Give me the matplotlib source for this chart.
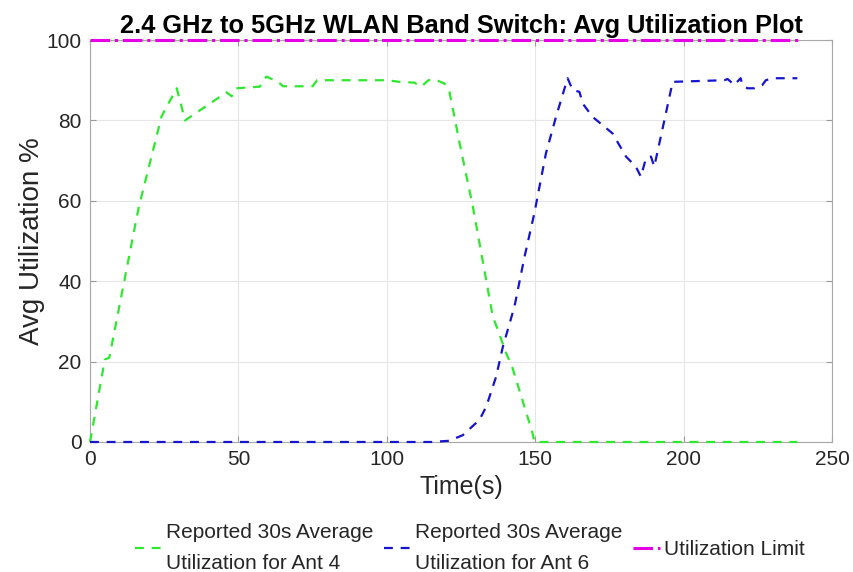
import matplotlib
matplotlib.use("Agg")
import matplotlib.pyplot as plt

plt.rcParams['font.family'] = ['Liberation Sans', 'DejaVu Sans']

# Ant 4 (2.4 GHz) reported 30s average utilization
t_ant4 = [0, 5.0, 6.5, 16.3, 24.1, 29.2, 30.3, 32, 46, 47.7, 49.3, 57.2, 59.4, 63.4,
          65, 75, 76.5, 100, 104.3, 109.3, 111.6, 114, 116.1, 119.4, 121.1, 125, 129,
          135.7, 137.4, 140.2, 142.4, 149.1, 149.7, 238.3]
u_ant4 = [0, 20.5, 21, 58, 81, 88, 85, 80, 87, 86, 88, 88.4, 90.9, 89.6,
          88.5, 88.5, 90, 90, 89.6, 89.4, 88.4, 90, 90.2, 89.2, 87.1, 72.6, 58.5,
          31.2, 27.9, 22.1, 18.3, 2.2, 0, 0]

# Ant 6 (5 GHz) reported 30s average utilization
t_ant6 = [0, 115, 121, 125.6, 131.2, 133.5, 136.8, 139.1, 143, 146.4, 149.7, 153.6,
          157, 160.9, 162.6, 164.9, 166, 169.3, 176, 180.6, 183.9, 185.6, 187.3, 189,
          190.1, 194, 196.3, 213.7, 214.8, 215.9, 217, 219.2, 219.8, 221.5, 223.7,
          226.5, 227.7, 229.9, 238.3]
u_ant6 = [0, 0, 0.3, 1.7, 5.5, 8.8, 16.2, 23.7, 33.7, 46.1, 56.9, 71.8,
          80.9, 90.5, 87.6, 87.1, 84.2, 80.9, 76.8, 71, 68.5, 66, 70.6, 71,
          68.5, 81.7, 89.6, 90, 90.3, 89.6, 88.8, 90.5, 88.8, 88, 88,
          88.8, 90, 90.5, 90.5]

t_limit = [0, 239]
u_limit = [100, 100]

labels = ["Reported 30s Average\nUtilization for Ant 4",
          "Reported 30s Average\nUtilization for Ant 6",
          "Utilization Limit"]

fig = plt.figure(figsize=(8.54, 5.72), dpi=100)
ax = fig.add_axes([0.1054, 0.2273, 0.8689, 0.7027])

ax.plot(t_ant4, u_ant4, color='#2ee82e', lw=1.6, dashes=(4, 3.5), label=labels[0],
        zorder=3, clip_on=False)
ax.plot(t_ant6, u_ant6, color='#1515cc', lw=1.6, dashes=(4, 3.5), label=labels[1],
        zorder=3, clip_on=False)
ax.plot(t_limit, u_limit, color='#e600e6', lw=2.2, linestyle='-.', label=labels[2],
        zorder=4, clip_on=False)

ax.set_xlim(0, 250)
ax.set_ylim(0, 100)
ax.set_xticks([0, 50, 100, 150, 200, 250])
ax.set_yticks([0, 20, 40, 60, 80, 100])
ax.grid(True, color='#e6e6e6', lw=0.8)
ax.set_axisbelow(True)
ax.tick_params(direction='in', top=True, right=True, length=4, colors='#9a9a9a',
               labelcolor='#262626', labelsize=15, pad=6)
for s in ax.spines.values():
    s.set_color('#a8a8a8')

ax.set_title("2.4 GHz to 5GHz WLAN Band Switch: Avg Utilization Plot",
             fontsize=18.3, fontweight='bold', pad=5)
ax.set_xlabel("Time(s)", fontsize=18, color='#262626', labelpad=4)
ax.set_ylabel("Avg Utilization %", fontsize=20, color='#262626', labelpad=1)

leg = fig.legend(loc='center', bbox_to_anchor=(0.55, 0.042), ncol=3, frameon=False,
                 handlelength=1.3, handletextpad=0.2, columnspacing=0.5,
                 prop={'size': 15})
for txt in leg.get_texts():
    txt.set_linespacing(1.75)
    txt.set_color('#262626')

fig.savefig("out.png", dpi=100)
